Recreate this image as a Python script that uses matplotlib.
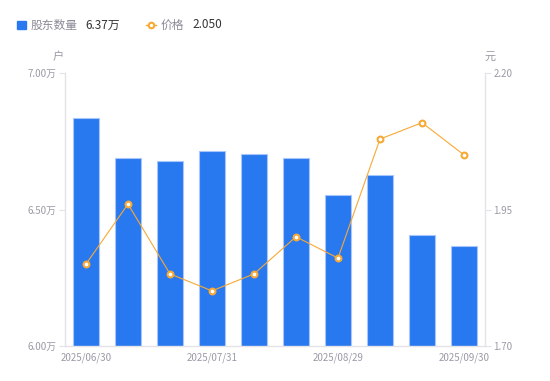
import matplotlib.pyplot as plt
import numpy as np

plt.rcParams['font.family'] = ['Noto Sans CJK SC', 'DejaVu Sans']

# data
dates = ['2025/06/30', '2025/07/15', '2025/07/20', '2025/07/31', '2025/08/10',
         '2025/08/20', '2025/08/29', '2025/09/10', '2025/09/20', '2025/09/30']
holders = [6.835, 6.689, 6.678, 6.714, 6.703, 6.689, 6.553, 6.626, 6.407, 6.366]  # 万户
price = [1.850, 1.960, 1.832, 1.801, 1.832, 1.900, 1.861, 2.079, 2.109, 2.050]
shown_ticks = [0, 3, 6, 9]

gray = '#9a9aa6'
axis_col = '#e3e3e8'
blue = '#2878f0'
orange = '#f7a935'

fig = plt.figure(figsize=(5.5, 3.81), dpi=100)
ax = fig.add_axes([65 / 550, 1 - 346 / 381, 420 / 550, 273 / 381])
x = np.arange(len(dates))
ax.bar(x, holders, width=0.6, color=blue, edgecolor='#a8c6fa', linewidth=0.8)
ax.set_xlim(-0.5, len(dates) - 0.5)
ax.set_ylim(6.0, 7.0)
ax.set_yticks([6.0, 6.5, 7.0])
ax.set_yticklabels(['6.00万', '6.50万', '7.00万'])
ax.set_xticks([x[i] for i in shown_ticks])
ax.set_xticklabels([dates[i] for i in shown_ticks])
ax.tick_params(axis='x', length=0, labelsize=7, colors=gray, pad=5)
ax.tick_params(axis='y', length=4, width=0.8, color=axis_col, labelsize=7,
               labelcolor=gray, pad=2)
for s in ['top', 'right']:
    ax.spines[s].set_visible(False)
for s in ['left', 'bottom']:
    ax.spines[s].set_color(axis_col)
    ax.spines[s].set_linewidth(1)

ax2 = ax.twinx()
ax2.plot(x, price, color=orange, linewidth=0.8, marker='o', markersize=4.2,
         markerfacecolor='white', markeredgecolor=orange, markeredgewidth=1.5)
ax2.set_ylim(1.70, 2.20)
ax2.set_yticks([1.70, 1.95, 2.20])
ax2.set_yticklabels(['1.70', '1.95', '2.20'])
ax2.tick_params(axis='y', length=4, width=0.8, color=axis_col, labelsize=7,
                labelcolor=gray, pad=2)
for s in ['top', 'left', 'bottom']:
    ax2.spines[s].set_visible(False)
ax2.spines['right'].set_color(axis_col)
ax2.spines['right'].set_linewidth(1)

# axis unit labels
fig.text(58 / 550, 1 - 57 / 381, '户', color=gray, fontsize=8, ha='center', va='center')
fig.text(490 / 550, 1 - 57 / 381, '元', color=gray, fontsize=8, ha='center', va='center')

# legend header
fig.patches.append(plt.Rectangle((17 / 550, 1 - 29 / 381), 9 / 550, 8 / 381,
                                 transform=fig.transFigure, color=blue))
fig.text(31 / 550, 1 - 25 / 381, '股东数量', color='#8a8a96', fontsize=8.5, va='center')
fig.text(85 / 550, 1 - 25 / 381, '6.37万', color='#333333', fontsize=8.5, va='center')
fig.lines.append(plt.Line2D([146 / 550, 151 / 550, 156 / 550], [1 - 25 / 381] * 3,
                            transform=fig.transFigure, color=orange, linewidth=1,
                            marker='o', markersize=4, markevery=[1],
                            markerfacecolor='white', markeredgecolor=orange,
                            markeredgewidth=1.5))
fig.text(161 / 550, 1 - 25 / 381, '价格', color='#8a8a96', fontsize=8.5, va='center')
fig.text(192 / 550, 1 - 25 / 381, '2.050', color='#333333', fontsize=8.5, va='center')

fig.savefig('out.png', dpi=100)
